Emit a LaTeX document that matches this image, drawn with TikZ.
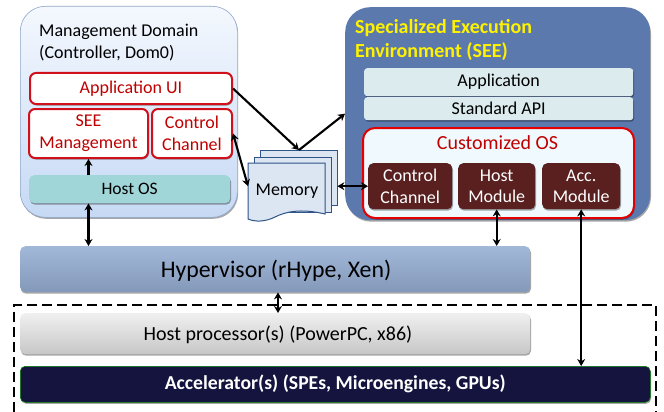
\documentclass[tikz,border=0pt]{standalone}
\usepackage{fontspec}
\setmainfont{Carlito}
\usetikzlibrary{arrows.meta,shadows,calc}
\definecolor{redline}{HTML}{D0101A}
\definecolor{redtext}{HTML}{C00000}
\definecolor{seeblue}{HTML}{5B79AD}
\definecolor{brownbox}{HTML}{5A2020}
\definecolor{teal1}{HTML}{A0D6D8}
\definecolor{pale}{HTML}{DCEBEE}
\definecolor{navy}{HTML}{14143F}
\definecolor{memfill}{HTML}{DCE6F2}
\definecolor{memline}{HTML}{2F5487}
\definecolor{mgmttop}{HTML}{F4F8FE}
\definecolor{mgmtbot}{HTML}{C6D9F4}
\definecolor{mgmtline}{HTML}{8FA6C8}
\definecolor{hyptop}{HTML}{A2B8D8}
\definecolor{hypbot}{HTML}{8499BA}
\tikzset{
  x=1pt,y=-1pt,
  fs/.style={font=\fontsize{#1}{1.2\dimexpr #1pt\relax}\selectfont},
  softshadow/.style={drop shadow={shadow xshift=0.8pt,shadow yshift=-1.5pt,opacity=.35,fill=black}},
  box/.style={rectangle,inner sep=0pt,align=center,anchor=north west},
  redbox/.style={box,draw=redline,line width=2pt,fill=white,rounded corners=6pt,text=redtext,fs=18,softshadow},
  brown/.style={box,fill=brownbox,rounded corners=5pt,text=white,fs=18,softshadow},
  pal/.style={box,fill=pale,rounded corners=3pt,fs=18,softshadow},
  bar/.style={box,rounded corners=5pt,softshadow},
  conn/.style={line width=2.1pt,{Stealth[length=7pt,width=8pt]}-{Stealth[length=7pt,width=8pt]}},
  conn1/.style={line width=2.1pt,-{Stealth[length=7pt,width=8pt]}},
  page/.style={draw=memline,line width=1pt,fill=memfill},
}
\newcommand{\bx}[6]{\node[#1,minimum width=#4pt-#2pt,minimum height=#5pt-#3pt] (#6) at (#2,#3)}
\begin{document}
\begin{tikzpicture}
\useasboundingbox (0,0) rectangle (664,412);
\fill[white] (0,0) rectangle (664,412);
% domains
\bx{box,rounded corners=25pt,draw=mgmtline,line width=.6pt,top color=mgmttop,bottom color=mgmtbot,softshadow}{20}{6}{237}{217}{mgmt} {};
\node[anchor=north west,fs=18,align=left,inner sep=0pt] (mgmtlabel) at (39,24) {Management Domain\\(Controller, Dom0)};
\bx{box,rounded corners=25pt,fill=seeblue,softshadow}{345}{7}{650}{220}{see} {};
\node[anchor=north west,align=left,inner sep=0pt,text=yellow,font=\fontsize{20}{24}\selectfont\bfseries] (seelabel) at (355,19) {Specialized Execution\\Environment (SEE)};
% management contents
\bx{redbox,fs=18}{29}{72}{231}{103}{appui} {Application UI};
\bx{redbox}{28}{108}{147}{157}{seem} {SEE\\Management};
\bx{redbox}{151}{108}{231}{157}{ctrl} {Control\\Channel};
\bx{bar,fill=teal1,fs=17.5}{29}{175}{230}{203}{hostos} {Host OS};
% SEE contents
\bx{pal}{364}{68}{633}{96}{app} {Application};
\bx{pal}{364}{97}{633}{120}{api} {Standard API};
\bx{box,draw=red!90!black,line width=2pt,fill=white!94!cyan,rounded corners=12pt,softshadow}{362}{127}{633}{217}{cos} {};
\node[fs=20,text=redtext,inner sep=0pt] (coslabel) at (497.5,143) {Customized OS};
\bx{brown}{368}{163}{452}{209}{cc} {Control\\Channel};
\bx{brown}{458}{163}{535}{209}{hm} {Host\\Module};
\bx{brown}{542}{163}{620}{209}{am} {Acc.\\Module};
% memory
\draw[page] (260,150) rectangle (337,205);
\draw[page] (254,157) rectangle (331,212);
\draw[page] (248,163) -- (325,163) -- (325,214) .. controls (300,208) and (285,212) .. (275,217) .. controls (265,222) and (255,222) .. (248,219) -- cycle;
\node[inner sep=0pt,minimum width=89pt,minimum height=72pt,anchor=north west] (mem) at (248,150) {};
\node[fs=18,inner sep=0pt] (memlabel) at (287,191) {Memory};
\coordinate (memtop) at (299,150);
% bars
\bx{bar,top color=hyptop,bottom color=hypbot}{20}{246}{530}{292}{hyp} {};
\node[fs=23.8,inner sep=0pt] (hyplabel) at (276,271) {Hypervisor (rHype, Xen)};
\draw[line width=1.1pt,dash pattern=on 10pt off 5pt] (14,412) -- (14,305) -- (656,305) -- (656,412);
\bx{bar,top color=black!6,bottom color=black!22}{20}{313}{530}{354}{hp} {};
\node[fs=20,inner sep=0pt] (hplabel) at (278,335) {Host processor(s) (PowerPC, x86)};
\bx{bar,fill=navy,draw=green!50!black,line width=.6pt,text=white,font=\fontsize{19.7}{22}\selectfont\bfseries}{20}{366}{650}{402}{acc} {Accelerator(s) (SPEs, Microengines, GPUs)};
% connectors
\draw[conn1] (appui.east) -- (memtop);
\draw[conn1] (memtop) -- (see.west);
\draw[conn] (ctrl.east) -- (mem.west);
\draw[conn] (mem.east) -- (cc.west);
\draw[conn1] (hostos.north -| seem.south) -- (seem.south);
\draw[conn] (hostos.south -| seem.south) -- (hyp.north -| seem.south);
\draw[conn] (hm.south) -- (hyp.north -| hm.south);
\draw[conn] (am.south) -- (acc.north -| am.south);
\draw[conn] (hyp.south -| hplabel.north) -- (hp.north -| hplabel.north);
\end{tikzpicture}
\end{document}
